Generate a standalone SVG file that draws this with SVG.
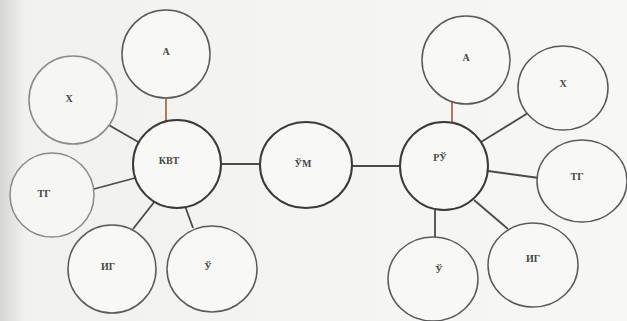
<svg xmlns="http://www.w3.org/2000/svg" width="627" height="321" viewBox="0 0 627 321">
<defs>
<linearGradient id="bg" x1="0" y1="0" x2="1" y2="0">
<stop offset="0" stop-color="#d6d6d4"/>
<stop offset="0.04" stop-color="#f1f1ef"/>
<stop offset="1" stop-color="#f7f7f5"/>
</linearGradient>
</defs>
<style>
.hub{fill:#f8f8f6;stroke:#3a3a3a;stroke-width:2}
.leaf{fill:#f8f8f6;stroke:#5a5a5a;stroke-width:1.5}
.leaf2{fill:#f6f6f4;stroke:#8a8a8a;stroke-width:1.5}
.ln{stroke:#4a4a4a;stroke-width:1.8;fill:none}
.lnA{stroke:#b07a5a;stroke-width:2;fill:none}
text{font-family:"Liberation Serif","DejaVu Serif",serif;font-size:10px;font-weight:bold;fill:#454545;text-anchor:middle;dominant-baseline:central}
</style>
<rect width="627" height="321" fill="url(#bg)"/>
<g id="connectors">
<line class="lnA" x1="166" y1="97" x2="166" y2="122"/>
<line class="ln" x1="107" y1="124" x2="140" y2="143"/>
<line class="ln" x1="94" y1="189" x2="135" y2="178"/>
<line class="ln" x1="133" y1="229" x2="155" y2="201"/>
<line class="ln" x1="193" y1="228" x2="185" y2="206"/>
<line class="ln" x1="221" y1="164" x2="261" y2="164"/>
<line class="ln" x1="351" y1="166" x2="400" y2="166"/>
<line class="lnA" x1="452" y1="102" x2="452" y2="124"/>
<line class="ln" x1="528" y1="113" x2="481" y2="142"/>
<line class="ln" x1="539" y1="178" x2="488" y2="171"/>
<line class="ln" x1="508" y1="229" x2="474" y2="200"/>
<line class="ln" x1="435" y1="237" x2="435" y2="210"/>
</g>
<g id="n-kvt"><circle class="hub" cx="177" cy="164" r="44"/><text x="169" y="160">КВТ</text></g>
<g id="n-a1"><circle class="leaf" cx="166" cy="54" r="44"/><text x="166" y="51">А</text></g>
<g id="n-x1"><circle class="leaf2" cx="73" cy="100" r="44"/><text x="69" y="98">Х</text></g>
<g id="n-tg1"><circle class="leaf2" cx="52" cy="195" r="42"/><text x="44" y="193">ТГ</text></g>
<g id="n-ig1"><circle class="leaf" cx="112" cy="269" r="44"/><text x="108" y="266">ИГ</text></g>
<g id="n-u1"><ellipse class="leaf" cx="212" cy="269" rx="45" ry="43"/><text x="208" y="266">Ў</text></g>
<g id="n-um"><ellipse class="hub" cx="306" cy="165" rx="46" ry="43"/><text x="303" y="163">ЎМ</text></g>
<g id="n-ru"><circle class="hub" cx="444" cy="166" r="44"/><text x="440" y="157">РЎ</text></g>
<g id="n-a2"><circle class="leaf" cx="466" cy="60" r="44"/><text x="466" y="57">А</text></g>
<g id="n-x2"><ellipse class="leaf" cx="563" cy="88" rx="45" ry="42"/><text x="563" y="83">Х</text></g>
<g id="n-tg2"><ellipse class="leaf" cx="582" cy="181" rx="45" ry="41"/><text x="577" y="176">ТГ</text></g>
<g id="n-ig2"><ellipse class="leaf" cx="533" cy="265" rx="45" ry="42"/><text x="533" y="258">ИГ</text></g>
<g id="n-u2"><ellipse class="leaf" cx="433" cy="279" rx="45" ry="42"/><text x="439" y="269">Ў</text></g>
</svg>
